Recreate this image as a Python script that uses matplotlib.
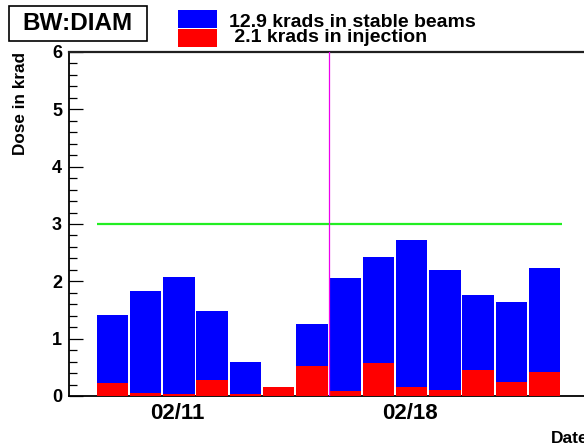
import matplotlib
matplotlib.use('Agg')
import matplotlib.pyplot as plt
from matplotlib.patches import Rectangle
from matplotlib.ticker import MultipleLocator, FixedLocator

# ---------------- data ----------------
dates = ['02/09', '02/10', '02/11', '02/12', '02/13', '02/14', '02/15',
         '02/16', '02/17', '02/18', '02/19', '02/20', '02/21', '02/22']
total_dose = [1.41, 1.83, 2.07, 1.48, 0.59, 0.16, 1.25,
              2.05, 2.42, 2.72, 2.19, 1.77, 1.64, 2.23]
injection_dose = [0.23, 0.05, 0.035, 0.28, 0.035, 0.16, 0.52,
                  0.08, 0.57, 0.16, 0.105, 0.45, 0.24, 0.41]
labelled_dates = ['02/11', '02/18']
stable_total_krad = 12.9
injection_total_krad = 2.1
dose_limit = 3.0
marker_after_date = '02/15'
detector = 'BW:DIAM'

# ---------------- style ----------------
plt.rcParams['font.family'] = ['Liberation Sans', 'DejaVu Sans']
plt.rcParams['font.weight'] = 'bold'

W, H = 584, 446
fig = plt.figure(figsize=(W / 100, H / 100), dpi=100)
ax_left, ax_right, ax_top, ax_bot = 69, 584, 52, 396
ax = fig.add_axes([ax_left / W, 1 - ax_bot / H, (ax_right - ax_left) / W, (ax_bot - ax_top) / H])

x = list(range(len(dates)))
left_edges = [i - 0.5 for i in x]
ax.bar(left_edges, total_dose, width=0.95, align='edge', color='#0000ff', linewidth=0, zorder=2)
ax.bar(left_edges, injection_dose, width=0.95, align='edge', color='#ff0000', linewidth=0, zorder=3)

# limit line
ax.hlines(dose_limit, -0.5, len(dates) - 0.5, color='#22ee22', linewidth=1.6, zorder=4)
# vertical marker
mi = dates.index(marker_after_date)
ax.axvline(mi + 0.5, color='#ee00ee', linewidth=0.9, zorder=5)

# axes limits: pixel-based mapping (bar centre k -> 113.3 + 33.24 k)
ax.set_xlim((ax_left - 113.3) / 33.24, (ax_right - 113.3) / 33.24)
ax.set_ylim(0, 6)

# y ticks
ax.yaxis.set_major_locator(MultipleLocator(1))
ax.yaxis.set_minor_locator(MultipleLocator(0.2))
ax.tick_params(axis='y', which='major', direction='in', length=10.3, width=0.9,
               labelsize=13, pad=5, colors='black')
ax.tick_params(axis='y', which='minor', direction='in', length=5.6, width=0.9)
for lab in ax.get_yticklabels():
    lab.set_fontweight('bold')

# x ticks (labels only)
ax.set_xticks([dates.index(d) - 0.08 for d in labelled_dates])
ax.set_xticklabels(labelled_dates, fontsize=16, fontweight='bold')
ax.tick_params(axis='x', which='both', length=0, pad=5)
ax.xaxis.set_minor_locator(FixedLocator([]))

for s in ['left', 'bottom']:
    ax.spines[s].set_linewidth(1.3)
ax.spines['top'].set_linewidth(1.6)
ax.spines['top'].set_color('#202020')
ax.spines['right'].set_visible(False)

# axis titles
fig.text(21 / W, 1 - 52 / H, 'Dose in krad', rotation=90, ha='center', va='top',
         fontsize=12.3, fontweight='bold')
fig.text(551 / W, 1 - 443 / H, 'Date', ha='left', va='baseline',
         fontsize=12.5, fontweight='bold')

# title box
fig.patches.append(Rectangle((8.7 / W, 1 - 40.7 / H), (147 - 8.7) / W, (40.7 - 6) / H,
                             transform=fig.transFigure, facecolor='white',
                             edgecolor='black', linewidth=1.2, zorder=10))
fig.text((8.7 + 147) / 2 / W, 1 - 23.5 / H, detector, ha='center', va='center',
         fontsize=17.5, fontweight='bold', zorder=11)

# legend
fig.patches.append(Rectangle((178 / W, 1 - 27.7 / H), 39 / W, 17.7 / H,
                             transform=fig.transFigure, facecolor='#0000ff',
                             edgecolor='none', zorder=10))
fig.patches.append(Rectangle((178 / W, 1 - 46.7 / H), 39 / W, 17.7 / H,
                             transform=fig.transFigure, facecolor='#ff0000',
                             edgecolor='none', zorder=10))
fig.text(229 / W, 1 - 27.3 / H, f'{stable_total_krad:.1f} krads in stable beams',
         ha='left', va='baseline', fontsize=14, fontweight='bold', zorder=11)
fig.text(229 / W, 1 - 42.5 / H, f' {injection_total_krad:.1f} krads in injection',
         ha='left', va='baseline', fontsize=14, fontweight='bold', zorder=11)

fig.savefig('out.png', dpi=100)
